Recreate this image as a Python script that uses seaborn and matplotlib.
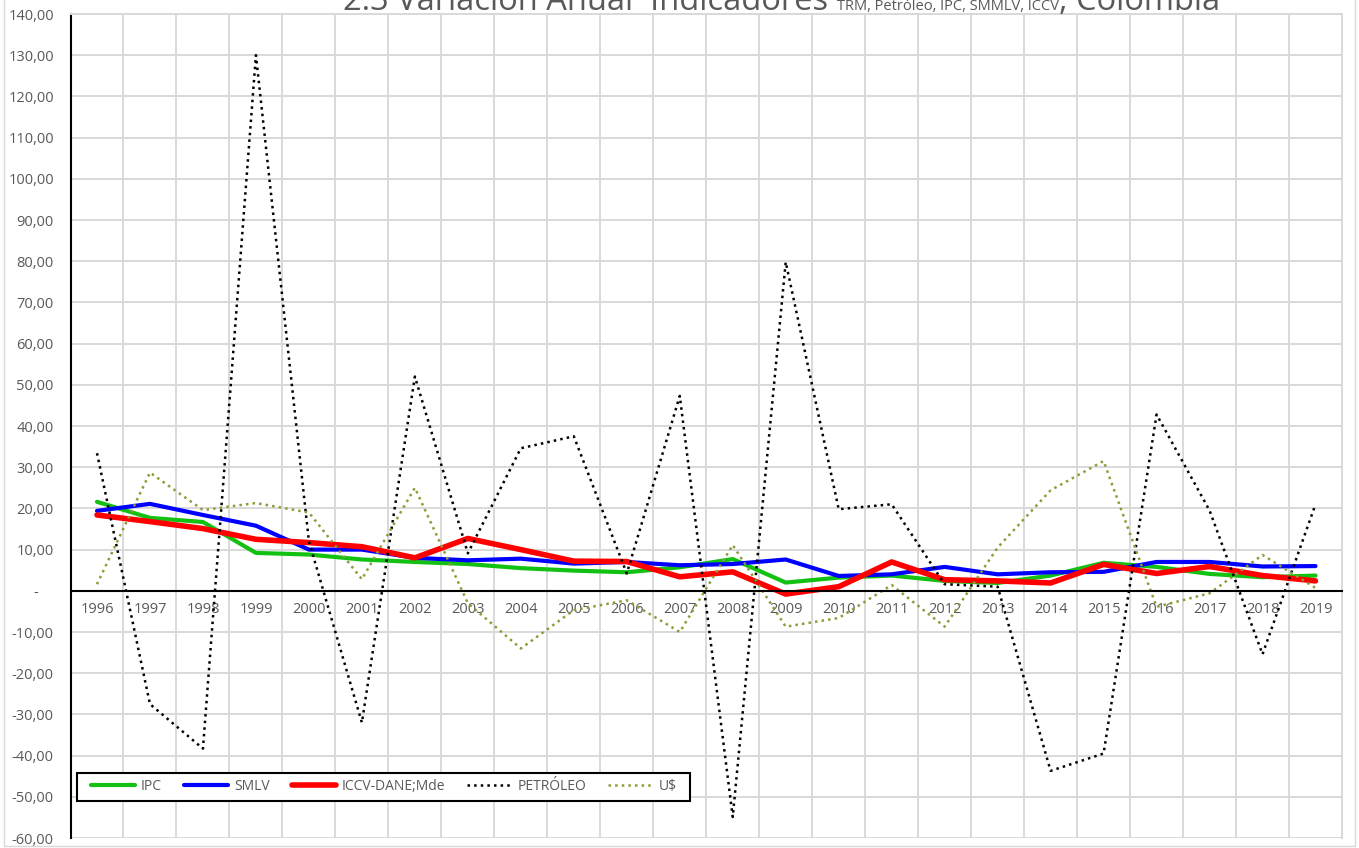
import numpy as np
import matplotlib
matplotlib.use("Agg")
import matplotlib.pyplot as plt
import seaborn as sns
from matplotlib.ticker import FuncFormatter, MultipleLocator
from matplotlib.patches import Rectangle

# Datos (variacion anual, %)
years = [str(y) for y in range(1996, 2020)]
ipc = [21.6, 17.7, 16.7, 9.2, 8.8, 7.6, 7.0, 6.5, 5.5, 4.9, 4.5, 5.7,
       7.7, 2.0, 3.2, 3.7, 2.4, 1.9, 3.7, 6.8, 5.8, 4.1, 3.3, 3.7]
smlv = [19.4, 21.1, 18.4, 15.8, 10.0, 10.0, 8.0, 7.4, 7.8, 6.6, 7.0, 6.2,
        6.5, 7.6, 3.6, 4.0, 5.8, 4.0, 4.5, 4.6, 7.0, 7.0, 5.9, 6.0]
iccv = [18.4, 16.8, 15.1, 12.5, 11.7, 10.7, 8.0, 12.7, 10.0, 7.2, 7.1, 3.4,
        4.6, -0.8, 1.0, 7.0, 2.7, 2.4, 1.9, 6.4, 4.2, 5.9, 3.7, 2.4]
petroleo = [33.4, -27.5, -38.3, 130.0, 12.0, -32.0, 52.0, 9.1, 34.6, 37.5, 4.2, 47.3,
            -54.9, 79.8, 19.8, 21.0, 1.6, 1.0, -43.7, -39.5, 42.8, 19.5, -15.4, 21.0]
usd = [1.6, 28.7, 19.6, 21.3, 19.0, 2.8, 25.0, -3.0, -14.0, -4.7, -2.3, -10.0,
       11.1, -8.7, -6.6, 1.4, -8.7, 10.5, 24.4, 31.5, -3.9, -0.6, 8.7, 0.7]

names = ["IPC", "SMLV", "ICCV-DANE;Mde", "PETRÓLEO", "U$"]
colors = ["#13c113", "#0000ff", "#ff0000", "#000000", "#8f9b38"]

sns.set_style("white")
plt.rcParams['font.family'] = ['Open Sans', 'DejaVu Sans']
gris = "#595959"

W, H = 1359, 848
fig = plt.figure(figsize=(W / 100, H / 100), dpi=100)
ax = fig.add_axes([70.5 / W, 1 - 838 / H, (1342 - 70.5) / W, (838 - 14) / H])

x = np.arange(len(years))
estilos = [(3.0, "-"), (3.0, "-"), (4.0, "-"), (1.8, ":"), (1.8, ":")]
for name, vals, color, (lw, ls) in zip(names, [ipc, smlv, iccv, petroleo, usd], colors, estilos):
    sns.lineplot(x=x, y=vals, ax=ax, color=color, linewidth=lw, linestyle=ls,
                 label=name, legend=False)

ax.set_xlim(-0.5, len(years) - 0.5)
ax.set_ylim(-60, 140)

# rejilla
ax.yaxis.set_major_locator(MultipleLocator(10))
ax.set_xticks(x)
ax.set_xticklabels(years)
ax.set_xticks(x[:-1] + 0.5, minor=True)
ax.grid(axis="y", which="major", color="#d9d9d9", linewidth=1.4)
ax.grid(axis="x", which="minor", color="#d9d9d9", linewidth=1.4)
ax.set_axisbelow(True)

ax.yaxis.set_major_formatter(FuncFormatter(
    lambda v, p: "-    " if abs(v) < 1e-9 else f"{v:.2f}".replace(".", ",")))

ax.spines["bottom"].set_position(("data", 0))
ax.spines["bottom"].set_color("black")
ax.spines["bottom"].set_linewidth(1.5)
ax.spines["left"].set_color("black")
ax.spines["left"].set_linewidth(1.5)
for s in ["top", "right"]:
    ax.spines[s].set_color("#d9d9d9")
    ax.spines[s].set_linewidth(1.4)

ax.tick_params(axis="y", length=0, pad=12, labelsize=10.5, labelcolor=gris)
ax.tick_params(axis="x", which="both", length=0, pad=8, labelsize=10.5, labelcolor=gris)
ax.set_xlabel("")
ax.set_ylabel("")

# leyenda con marco negro
x0, x1 = (77 - 70.5) / 1271.5, (690 - 70.5) / 1271.5
y0, y1 = (838 - 801) / 824, (838 - 772.7) / 824
ax.add_patch(Rectangle((x0, y0), x1 - x0, y1 - y0, transform=ax.transAxes,
                       facecolor="white", edgecolor="black", linewidth=1.5, zorder=5))
leg = ax.legend(loc="center", bbox_to_anchor=((x0 + x1) / 2, (y0 + y1) / 2),
                ncol=5, frameon=False, fontsize=10, handlelength=3.2,
                handletextpad=0.4, columnspacing=1.6)
leg.set_zorder(6)
for t in leg.get_texts():
    t.set_color(gris)

# borde exterior del grafico
fig.patches.append(Rectangle((3.5 / W, 1 - 846 / H), (1355 - 3.5) / W, 1.0,
                             transform=fig.transFigure, fill=False,
                             edgecolor="#d9d9d9", linewidth=1.0))

# titulo (recortado arriba, como en el original)
partes = [("2.3 Variación Anual  Indicadores ", 23.5), ("TRM, Petróleo, IPC, SMMLV, ICCV", 10.5),
          (", Colombia", 23.5)]
fig.canvas.draw()
r = fig.canvas.get_renderer()
xpos = 343 / W
for txt, fs in partes:
    t = fig.text(xpos, 1 - 10 / H, txt, fontsize=fs, color=gris, ha="left", va="baseline")
    bb = t.get_window_extent(r)
    xpos = bb.x1 / W

fig.savefig("out.png", dpi=100)
